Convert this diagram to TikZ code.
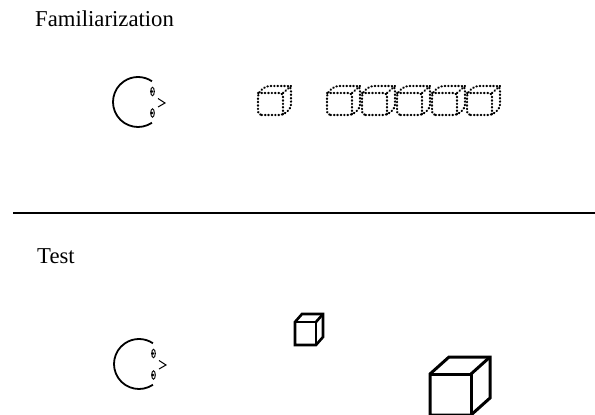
\documentclass[tikz,border=0pt]{standalone}
\usepackage{fontspec}
\setmainfont{Liberation Serif}
\begin{document}
\begin{tikzpicture}[x=1pt,y=-1pt,
  lbl/.style={anchor=base west,inner sep=0pt,font=\fontsize{22.7}{26}\selectfont},
  solidcube/.style={line width=2.6pt,line join=miter},
  dotcube/.style={line width=2.2pt,line cap=round,dash pattern=on 0.5pt off 2.9pt,rounded corners=3.5pt},
  pics/boxcube/.style args={#1/#2/#3/#4}{code={
    \draw (0,0) -- (#1,0) -- (#1+#3,-#4) -- (#1+#3,-#2-#4) -- (#3,-#2-#4) -- (0,-#2) -- cycle;
    \draw (0,-#2) -- (#1,-#2) -- (#1,0);
    \draw (#1,-#2) -- (#1+#3,-#2-#4);
  }},
  pics/face/.style={code={
    \draw[line width=1.8pt] (56:25) arc[start angle=56,end angle=304,radius=25];
    \draw[line width=1pt] (14.5,-10.5) ellipse[x radius=1.8,y radius=4.2];
    \fill (13.8,-10.5) circle[radius=1.5];
    \draw[line width=1pt] (14.5,11) ellipse[x radius=1.8,y radius=4.2];
    \fill (13.8,11) circle[radius=1.5];
    \draw[line width=1pt] (20,-3.5) -- (27,1) -- (20,5);
  }}]
\useasboundingbox (0,0) rectangle (595,415);
\node[lbl] (fam) at (35,26) {Familiarization};
\node[lbl] (test) at (37,263) {Test};
\draw[line width=2pt] (13,213) -- (595,213);
% familiarization
\pic at (138,102) {face};
\pic[dotcube] at (258,115) {boxcube=25/22/8/7};
\foreach \i in {0,...,4}{
  \pic[dotcube] at (327+35*\i,115) {boxcube=25/22/8/7};
}
% test
\pic at (139,364) {face};
\pic[solidcube] at (295,345) {boxcube=21/23/7/8};
\pic[solidcube,line width=3pt] at (430,415) {boxcube=41/41/19/17};
\end{tikzpicture}
\end{document}
